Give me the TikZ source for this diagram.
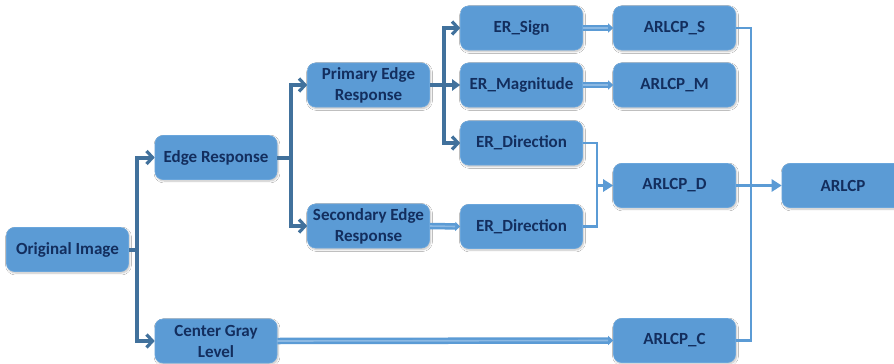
\documentclass[tikz,border=0pt]{standalone}
\usepackage{fontspec}
\setmainfont{Carlito}
\usetikzlibrary{arrows.meta,shadows.blur}
\definecolor{boxblue}{HTML}{5B9BD5}
\definecolor{boxedge}{HTML}{6AA6DC}
\definecolor{textnavy}{HTML}{132E5E}
\definecolor{darklink}{HTML}{41719C}
\definecolor{lightlink}{HTML}{5B9BD5}
\definecolor{paleline}{HTML}{8CB9E3}
\tikzset{
  stagebox/.style={
    rectangle, rounded corners=8pt, fill=boxblue, draw=boxedge, line width=0.6pt,
    minimum width=122pt, minimum height=44pt, inner sep=1pt,
    text=textnavy, align=center,
    font=\fontsize{17}{21}\selectfont\bfseries,
    blur shadow={shadow xshift=1pt, shadow yshift=-1.5pt, shadow blur steps=6, shadow opacity=25}},
  darkflow/.style={draw=darklink, line width=4pt, line join=miter,
    -{Straight Barb[length=6pt,width=13pt,line width=3.2pt]}},
  darkmid/.style={draw=darklink, line width=4pt,
    -{Triangle[length=8pt,width=11pt]}},
  darkplain/.style={draw=darklink, line width=4pt},
  wideflow/.style={draw=lightlink, line width=6.5pt,
    -{Triangle[length=5pt,width=9pt]}},
  widecore/.style={draw=paleline, line width=1.6pt},
  thinflow/.style={draw=lightlink, line width=2.8pt,
    -{Triangle[length=10pt,width=12pt]}},
  thinplain/.style={draw=lightlink, line width=2.8pt, line join=miter},
}
\begin{document}
\begin{tikzpicture}[x=1pt, y=-1pt]
  \useasboundingbox (0,0) rectangle (894,364);
  \clip (0,0) rectangle (894,364);
  \fill[white] (0,0) rectangle (894,364);

  % processing stages
  \node[stagebox] (orig) at (67.5,249.5) {Original Image};
  \node[stagebox] (edge) at (216,157.5) {Edge Response};
  \node[stagebox] (cgl)  at (216,341) {Center Gray\\Level};
  \node[stagebox] (prim) at (368.5,85) {Primary Edge\\Response};
  \node[stagebox] (sec)  at (368.5,226) {Secondary Edge\\Response};
  \node[stagebox] (ersign) at (521.5,28) {ER\_Sign};
  \node[stagebox] (ermag)  at (521.5,85) {ER\_Magnitude};
  \node[stagebox] (erdirA) at (521.5,143) {ER\_Direction};
  \node[stagebox] (erdirB) at (521.5,226.5) {ER\_Direction};
  \node[stagebox] (as) at (674.5,28) {ARLCP\_S};
  \node[stagebox] (am) at (674.5,85) {ARLCP\_M};
  \node[stagebox] (ad) at (674.5,185.5) {ARLCP\_D};
  \node[stagebox] (ac) at (674.5,340.5) {ARLCP\_C};
  \node[stagebox] (all) at (843,185.5) {ARLCP};

  % branching points of the trunks
  \coordinate (t1) at (137,249.5);
  \coordinate (t2) at (291,157.5);
  \coordinate (t3) at (444,85);
  \coordinate (dj) at (597,185.5);
  \coordinate (rj) at (751,185.5);

  % dark splitting connectors
  \draw[darkplain] (orig.east) -- (t1);
  \draw[darkflow] (t1) |- (edge.west);
  \draw[darkflow] (t1) |- (cgl.west);
  \draw[darkplain] (edge.east) -- (t2);
  \draw[darkflow] (t2) |- (prim.west);
  \draw[darkflow] (t2) |- (sec.west);
  \draw[darkplain] (prim.east) -- (t3);
  \draw[darkflow] (t3) |- (ersign.west);
  \draw[darkmid] (t3) -- (ermag.west);
  \draw[darkflow] (t3) |- (erdirA.west);

  % wide one-to-one links
  \draw[wideflow] (ersign.east) -- (as.west);
  \draw[wideflow] (ermag.east) -- (am.west);
  \draw[wideflow] (sec.east) -- (erdirB.west);
  \draw[wideflow] (cgl.east) -- (ac.west);
  \draw[widecore] (ersign.east) -- ([xshift=-5pt]as.west);
  \draw[widecore] (ermag.east) -- ([xshift=-5pt]am.west);
  \draw[widecore] (sec.east) -- ([xshift=-5pt]erdirB.west);
  \draw[widecore] (cgl.east) -- ([xshift=-5pt]ac.west);

  % merging connectors
  \draw[thinplain] (erdirA.east) -| (dj) |- (erdirB.east);
  \draw[thinflow] (dj) -- (ad.west);
  \draw[thinplain] (as.east) -| (rj) |- (ac.east);
  \draw[thinflow] (ad.east) -- (all.west);
\end{tikzpicture}
\end{document}
